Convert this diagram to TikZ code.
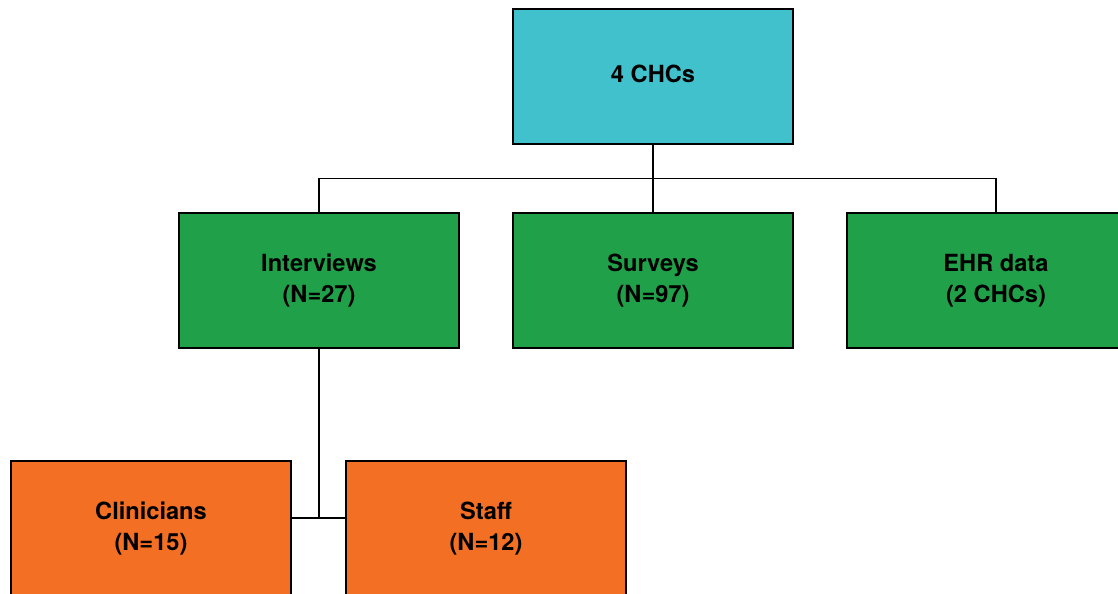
\documentclass[tikz,border=0pt]{standalone}
\usepackage{fontspec}
\setmainfont{TeX Gyre Heros}
\definecolor{chcteal}{HTML}{40C1CC}
\definecolor{armgreen}{HTML}{21A04A}
\definecolor{grouporange}{HTML}{F26F24}
\tikzset{
  box/.style={rectangle, draw=black, line width=1pt, minimum width=7cm, minimum height=3.375cm,
    align=center, font=\fontsize{16.8}{22}\selectfont\bfseries, inner sep=0pt},
  link/.style={line width=0.8pt}
}
\begin{document}
\begin{tikzpicture}
  \useasboundingbox (0,0) rectangle (27.95,-14.85);

  \node(chc)[box, fill=chcteal] at (16.325,-1.9125) {\raisebox{0.15cm}{4 CHCs}};

  \node(surveys)[box, fill=armgreen, below of=chc, node distance=5.1cm] {Surveys\\(N=97)};
  \node(interviews)[box, fill=armgreen, left of=surveys, node distance=8.35cm] {Interviews\\(N=27)};
  \node(ehr)[box, fill=armgreen, minimum width=7.45cm, right of=surveys, node distance=8.575cm] {EHR data\\(2 CHCs)};

  \node(clinicians)[box, fill=grouporange] at (3.775,-13.2125) {Clinicians\\(N=15)};
  \node(staff)[box, fill=grouporange, right of=clinicians, node distance=8.375cm] {Staff\\(N=12)};

  \coordinate (bar) at ([yshift=0.2625cm]clinicians.east);

  \draw[link] (chc) -- (surveys);
  \draw[link] (interviews.north) -- ++(0,0.85) -| (ehr.north);
  \draw[link] (interviews.south) -- (interviews.south |- bar);
  \draw[line width=1.2pt] (bar) -- (staff.west |- bar);
\end{tikzpicture}
\end{document}
